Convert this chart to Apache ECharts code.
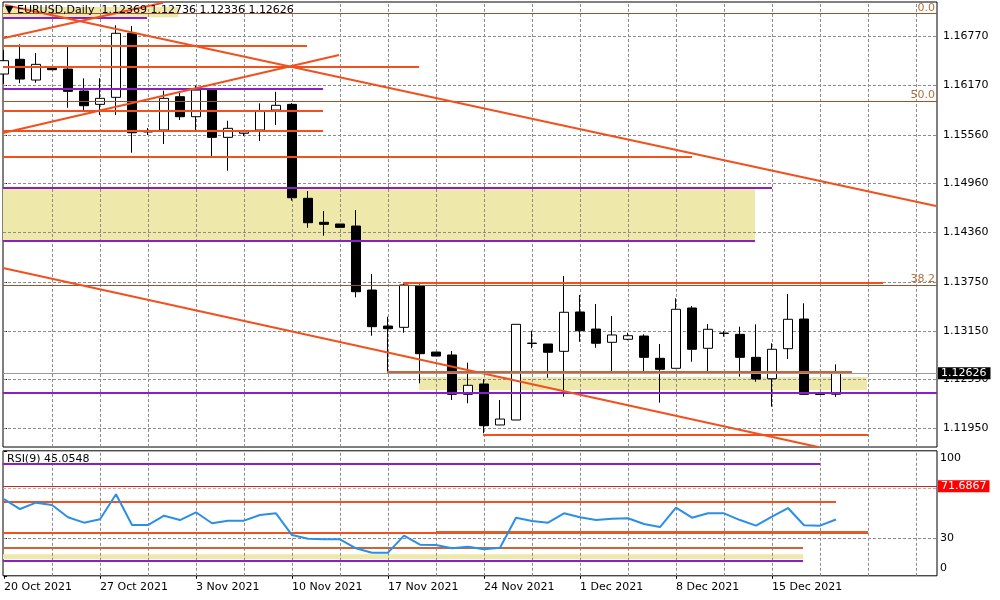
<!DOCTYPE html>
<html><head><meta charset="utf-8">
<script src="https://cdn.jsdelivr.net/npm/echarts@6/dist/echarts.min.js"></script>
<style>html,body{margin:0;padding:0;background:#fff}#c{width:1000px;height:600px}</style>
</head><body><div id="c"></div>
<script>
// ---------- DATA ----------
const dateLabels = ['20 Oct 2021','27 Oct 2021','3 Nov 2021','10 Nov 2021','17 Nov 2021','24 Nov 2021','1 Dec 2021','8 Dec 2021','15 Dec 2021'];
const dateLabelBars = [0,6,12,18,24,30,36,42,48];
const opens = [
 1.16308,1.16489,1.16234,1.16385,1.16369,1.16099,1.15935,1.16021,1.16809,1.15595,
 1.15619,1.16029,1.15783,1.16120,1.15529,1.15579,1.15619,1.15865,1.15935,1.14779,
 1.14484,1.14463,1.14438,1.13651,1.13208,1.13192,1.13700,1.12888,1.12852,1.12368,
 1.12495,1.11991,1.12052,1.12998,1.12987,1.12897,1.13381,1.13171,1.13008,1.13045,
 1.13085,1.12811,1.12688,1.13430,1.12934,1.13121,1.13106,1.12823,1.12560,1.12929,
 1.13294,1.12370,1.12369];
const closes = [
 1.16472,1.16246,1.16427,1.16361,1.16095,1.15918,1.16009,1.16809,1.15586,1.15607,
 1.16009,1.15783,1.16111,1.15529,1.15640,1.15598,1.15857,1.15923,1.14786,1.14479,
 1.14459,1.14422,1.13630,1.13200,1.13175,1.13713,1.12868,1.12839,1.12368,1.12479,
 1.11982,1.12064,1.13229,1.12994,1.12885,1.13377,1.13150,1.12996,1.13098,1.13089,
 1.12823,1.12676,1.13414,1.12922,1.13168,1.13118,1.12823,1.12556,1.12922,1.13291,
 1.12368,1.12366,1.12626];
const lows = [
 1.16185,1.16194,1.16201,1.16357,1.15893,1.15844,1.15804,1.15804,1.15340,1.15558,
 1.15447,1.15742,1.15619,1.15299,1.15118,1.15545,1.15484,1.15681,1.14750,1.14417,
 1.14319,1.14422,1.13561,1.13089,1.12639,1.13126,1.12504,1.12839,1.12298,1.12258,
 1.11888,1.11991,1.12052,1.12934,1.12572,1.12339,1.13015,1.12941,1.12655,1.13032,
 1.12646,1.12265,1.12688,1.12769,1.12655,1.13077,1.12585,1.12523,1.12216,1.12802,
 1.12360,1.12360,1.12336];
const highs = [
 1.16603,1.16673,1.16566,1.16394,1.16644,1.16255,1.16255,1.16907,1.16898,1.15644,
 1.16103,1.16090,1.16164,1.16136,1.15734,1.15607,1.15947,1.16090,1.15951,1.14869,
 1.14623,1.14463,1.14635,1.13848,1.13323,1.13734,1.13721,1.12888,1.12901,1.12757,
 1.12556,1.12298,1.13229,1.13150,1.12987,1.13823,1.13590,1.13479,1.13331,1.13126,
 1.13106,1.12987,1.13549,1.13454,1.13233,1.13147,1.13200,1.13229,1.12996,1.13602,
 1.13488,1.12372,1.12736];
const rsi = [
 61.4,53.4,58.5,56.6,46.8,42.5,45.2,65.2,40.6,40.6,
 48.1,44.6,50.8,42.0,44.1,44.1,48.6,50.0,32.6,29.7,
 29.2,29.2,22.0,18.5,18.5,32.1,24.9,24.6,22.0,23.3,
 21.2,22.5,46.5,43.8,42.5,50.0,46.8,44.6,45.7,46.0,
 41.4,39.0,54.5,46.5,50.0,50.0,44.6,40.1,47.3,54.2,
 40.4,40.1,45.05];
const priceTicks = [1.11950,1.12550,1.13150,1.13750,1.14360,1.14960,1.15560,1.16170,1.16770];
const rsiTicks = [0,30,100];
const rsiLevels = [30,70];
const lastPrice = 1.12626;
const rsiMarker = 71.6867;
const headerText = '\u25BC EURUSD,Daily  1.12369 1.12736 1.12336 1.12626';
const rsiText = 'RSI(9) 45.0548';
const fibLevels = [1.17055,1.15976,1.13713];
const fibNames = ['0.0','50.0','38.2'];
// [price, fromBar, toBar]
const purpleLevels = [[1.17005,-0.0625,8.94],[1.16127,-0.0625,19.94],[1.14909,-0.0625,48],[1.14254,-0.0625,46.94],[1.12388,-0.0625,58.3125]];
const orangeLevels = [[1.16656,-0.0625,18.94],[1.16398,-0.0625,25.94],[1.15857,-0.0625,19.94],[1.15611,-0.0625,19.94],[1.15291,-0.0625,43],[1.13746,24.94,54.94],[1.11868,29.94,54]];
const brownLevels = [[1.12639,23.94,53]];
// [fromBar, fromPrice, toBar, toPrice]
const trendLines = [[0.06,1.17157,58.25,1.14684],[-0.0625,1.16747,9.94,1.17185],[-0.0625,1.15582,20.94,1.16542],[-0.0625,1.13922,50.875,1.1172]];
// [fromBar, toBar, lowPrice, highPrice]
const zones = [[-0.0625,10.9,1.17005,1.17132],[-0.0625,46.94,1.14254,1.14893],[25.94,53.94,1.12421,1.12581]];
// RSI pane objects
const rsiPurple = [[89.7,-0.0625,51],[12.1,-0.0625,49.94]];
const rsiOrange = [[59.3,-0.0625,52],[34.8,-0.0625,54]];
const rsiBrown = [[22.5,-0.0625,49.94],[35.6,27,54]];
const rsiZones = [[-0.0625,49.94,13.5,17.3]];

// ---------- CHART ----------
const X0 = -0.0625, X1 = 58.3125;
const FONT = 'DejaVu Sans';
const PURPLE = '#8b1fc6', ORANGE = '#f2501c', BROWN = '#cc6436', FIB = '#a0522d', BEIGE = '#eee8aa', GRIDC = '#8c8c8c';

const candleData = opens.map((o,i)=>[i,o,closes[i],lows[i],highs[i]]);
const rsiData = rsi.map((v,i)=>[i,v]);
const gridBars = []; for (let b = 3; b < X1; b += 3) gridBars.push(b);

function seg(x1,y1,x2,y2,color,width){
  return [{coord:[x1,y1], lineStyle:{color:color,width:width,type:'solid'}},{coord:[x2,y2]}];
}
function hseg(arr,color,width){ return arr.map(a=>seg(a[1],a[0],a[2],a[0],color,width)); }
function area(z){ return [{coord:[z[0],z[3]], itemStyle:{color:BEIGE,opacity:1}},{coord:[z[1],z[2]]}]; }

const mainSegs = [].concat(
  hseg(purpleLevels,PURPLE,2),
  hseg(orangeLevels,ORANGE,2),
  hseg(brownLevels,BROWN,3),
  trendLines.map(t=>seg(t[0],t[1],t[2],t[3],ORANGE,2))
);
const rsiSegs = [].concat(
  hseg(rsiPurple,PURPLE,2),
  hseg(rsiOrange,ORANGE,2),
  hseg(rsiBrown,BROWN,2)
);

const dashed = {color:GRIDC,width:1,type:[3,2]};
const noSym = ['none','none'];

const option = {
  animation:false,
  backgroundColor:'#fff',
  textStyle:{fontFamily:FONT},
  title:[
    {text:headerText,left:5,top:5,textStyle:{fontSize:11,fontWeight:'normal',color:'#000',fontFamily:FONT},padding:0,z:10},
    {text:rsiText,left:7,top:454,textStyle:{fontSize:11,fontWeight:'normal',color:'#000',fontFamily:FONT},padding:0,z:1}
  ],
  grid:[
    {left:3,top:2,width:934,height:445,show:true,borderColor:'#000',borderWidth:1,backgroundColor:'#fff',containLabel:false,outerBoundsMode:'none'},
    {left:3,top:450.8,width:934,height:125,show:true,borderColor:'#000',borderWidth:1,backgroundColor:'#fff',containLabel:false,outerBoundsMode:'none'}
  ],
  xAxis:[
    {type:'value',gridIndex:0,min:X0,max:X1,show:false,splitLine:{show:false}},
    {type:'value',gridIndex:1,min:X0,max:X1,
      axisLine:{show:false},splitLine:{show:false},
      axisTick:{show:true,length:3,customValues:dateLabelBars,lineStyle:{color:'#000'}},
      axisLabel:{customValues:dateLabelBars,align:'left',margin:6,fontSize:11,color:'#000',fontFamily:FONT,
        formatter:v=>dateLabels[dateLabelBars.indexOf(Math.round(v))]||''}}
  ],
  yAxis:[
    {type:'value',gridIndex:0,position:'right',min:1.1172,max:1.17194,
      axisLine:{show:false},splitLine:{show:false},
      axisTick:{show:true,length:3,customValues:priceTicks,lineStyle:{color:'#000'}},
      axisLabel:{customValues:priceTicks,margin:6,fontSize:11,color:'#000',fontFamily:FONT,formatter:v=>v.toFixed(5)}},
    {type:'value',gridIndex:1,position:'right',min:0,max:100,
      axisLine:{show:false},splitLine:{show:false},
      axisTick:{show:true,length:3,customValues:rsiTicks,lineStyle:{color:'#000'}},
      axisLabel:{customValues:rsiTicks,margin:3,fontSize:11,color:'#000',fontFamily:FONT,
        formatter:v=> v===100?'{t|100}':(v===0?'{b|0}':String(v)),
        rich:{t:{padding:[14,0,0,0],fontSize:11,color:'#000',fontFamily:FONT},b:{padding:[0,0,16,0],fontSize:11,color:'#000',fontFamily:FONT}}}}
  ],
  series:[
    // beige zones (main)
    {type:'line',xAxisIndex:0,yAxisIndex:0,data:[],z:1,silent:true,
      markArea:{silent:true,z:1,data:zones.map(area)}},
    // grid lines main
    {type:'line',xAxisIndex:0,yAxisIndex:0,data:[],z:2,silent:true,
      markLine:{silent:true,z:2,precision:6,symbol:noSym,label:{show:false},lineStyle:dashed,
        data:[].concat(priceTicks.map(v=>({yAxis:v})),gridBars.map(b=>({xAxis:b})))}},
    // candles
    {type:'candlestick',xAxisIndex:0,yAxisIndex:0,z:3,barWidth:10,data:candleData,
      encode:{x:0,y:[1,2,3,4]},
      itemStyle:{color:'#ffffff',color0:'#000000',borderColor:'#000000',borderColor0:'#000000',borderColorDoji:'#000000',borderWidth:1}},
    // user objects main
    {type:'line',xAxisIndex:0,yAxisIndex:0,data:[],z:5,silent:true,
      markLine:{silent:true,z:5,precision:6,symbol:noSym,label:{show:false},data:[].concat(
        fibLevels.map((p,k)=>({yAxis:p,lineStyle:{color:FIB,width:1,type:'solid'},
          label:{show:true,position:'insideEndTop',distance:[2,0],formatter:fibNames[k],color:'#b3703f',fontSize:11,fontFamily:FONT}})),
        mainSegs,
        [{yAxis:lastPrice,lineStyle:{color:'#9a9a9a',width:1,type:'solid'},
          label:{show:true,position:'end',distance:1,formatter:lastPrice.toFixed(5),color:'#fff',backgroundColor:'#000',
            padding:[1,4,0,3],fontSize:11,fontFamily:FONT}}]
      )}},
    // RSI pane zones + grid
    {type:'line',xAxisIndex:1,yAxisIndex:1,data:[],z:1,silent:true,
      markArea:{silent:true,z:1,data:rsiZones.map(area)}},
    {type:'line',xAxisIndex:1,yAxisIndex:1,data:[],z:2,silent:true,
      markLine:{silent:true,z:2,precision:6,symbol:noSym,label:{show:false},lineStyle:dashed,
        data:[].concat(rsiLevels.map(v=>({yAxis:v,lineStyle:{color:v===70?'#d0a8a8':GRIDC,width:1,type:[3,2]}})),gridBars.map(b=>({xAxis:b})))}},
    {type:'line',xAxisIndex:1,yAxisIndex:1,data:[],z:4,silent:true,
      markLine:{silent:true,z:4,precision:6,symbol:noSym,label:{show:false},data:[].concat(
        rsiSegs,
        [{yAxis:rsiMarker,lineStyle:{color:'#c02828',width:1,type:'solid'},
          label:{show:true,position:'end',distance:1,formatter:String(rsiMarker),color:'#fff',backgroundColor:'#ff0000',
            padding:[1,3,0,3],fontSize:11,fontFamily:FONT}}]
      )}},
    // RSI line
    {type:'line',xAxisIndex:1,yAxisIndex:1,z:6,data:rsiData,symbol:'none',
      lineStyle:{color:'#2b8fe6',width:2},silent:true}
  ]
};
const chart = echarts.init(document.getElementById('c'),null,{renderer:'canvas'});
chart.setOption(option);
</script></body></html>
